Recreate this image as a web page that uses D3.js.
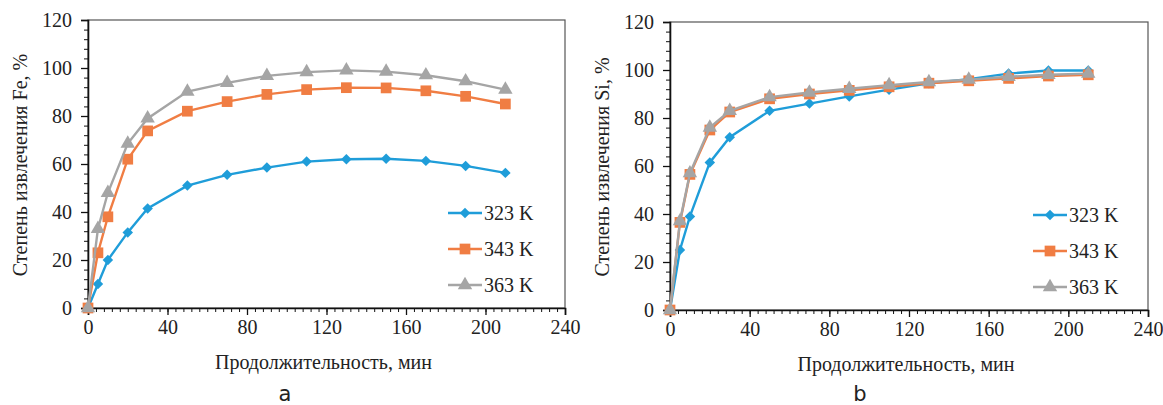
<!DOCTYPE html>
<html>
<head>
<meta charset="utf-8">
<script src="https://cdn.jsdelivr.net/npm/d3@7"></script>
<style>
  body { margin: 0; background: #fff; }
</style>
</head>
<body>
<svg id="chart" width="1163" height="405"></svg>
<script>
const times = [0, 5, 10, 20, 30, 50, 70, 90, 110, 130, 150, 170, 190, 210];
const seriesNames = ["323 K", "343 K", "363 K"];
const colors = ["#1f9dd9", "#f07d43", "#a5a5a5"];

// степень извлечения Fe, %
const fe323 = [0, 10, 20, 31.5, 41.5, 51, 55.5, 58.5, 61, 62, 62.2, 61.3, 59.2, 56.3];
const fe343 = [0, 23, 38, 62, 73.8, 82, 86, 89, 91, 91.8, 91.7, 90.5, 88.2, 85];
const fe363 = [0, 33, 48, 68.5, 79, 90.2, 93.8, 96.7, 98.3, 99, 98.5, 97, 94.5, 91];

// степень извлечения Si, %
const si323 = [0, 25, 39, 61.5, 72, 83, 86, 89, 91.8, 94.5, 96.2, 98.5, 99.8, 99.8];
const si343 = [0, 36.5, 56.5, 75, 82.5, 88, 90, 91.5, 93, 94.5, 95.5, 96.5, 97.5, 98];
const si363 = [0, 37, 57, 76, 83, 88.7, 90.6, 92.2, 93.7, 95, 96, 97.2, 98, 98.5];

const xTicks = [0, 40, 80, 120, 160, 200, 240];
const yTicks = [0, 20, 40, 60, 80, 100, 120];

const FONT = "Liberation Serif";
const svg = d3.select("#chart");

function drawPanel(opt) {
    const left = opt.left, top = opt.top, w = opt.width, h = opt.height;
    const g = svg.append("g").attr("transform", `translate(${left},${top})`);

    const x = d3.scaleLinear().domain([0, 240]).range([0, w]);
    const y = d3.scaleLinear().domain([0, 120]).range([h, 0]);

    // frame
    g.append("rect").attr("width", w).attr("height", h)
        .attr("fill", "none").attr("stroke", "#555").attr("stroke-width", 1.2);

    // minor ticks
    g.append("g").attr("transform", `translate(0,${h})`)
        .call(d3.axisBottom(x).tickValues(d3.range(0, 241, 4)).tickSize(4).tickFormat(""))
        .call(a => a.select(".domain").remove())
        .selectAll("line").attr("stroke", "#111").attr("stroke-width", 1);
    g.append("g")
        .call(d3.axisLeft(y).tickValues(d3.range(0, 121, 4)).tickSize(4).tickFormat(""))
        .call(a => a.select(".domain").remove())
        .selectAll("line").attr("stroke", "#111").attr("stroke-width", 1);

    // major ticks + labels
    const xa = g.append("g").attr("transform", `translate(0,${h})`)
        .call(d3.axisBottom(x).tickValues(xTicks).tickSize(7).tickPadding(5))
        .attr("font-family", FONT).attr("font-size", 20);
    xa.select(".domain").attr("stroke", "#111").attr("stroke-width", 1.6);
    xa.selectAll("line").attr("stroke", "#111").attr("stroke-width", 1.3);
    xa.selectAll("text").attr("fill", "#222");

    const ya = g.append("g")
        .call(d3.axisLeft(y).tickValues(yTicks).tickSize(7).tickPadding(9))
        .attr("font-family", FONT).attr("font-size", 20);
    ya.select(".domain").attr("stroke", "#111").attr("stroke-width", 1.6);
    ya.selectAll("line").attr("stroke", "#111").attr("stroke-width", 1.3);
    ya.selectAll("text").attr("fill", "#222");

    // axis titles
    g.append("text").attr("x", w / 2 - 3).attr("y", h + 61)
        .attr("text-anchor", "middle")
        .attr("font-family", FONT).attr("font-size", 20).attr("fill", "#222")
        .text("Продолжительность, мин");
    g.append("text")
        .attr("transform", `translate(${-61},${h / 2 + 1}) rotate(-90)`)
        .attr("text-anchor", "middle")
        .attr("font-family", FONT).attr("font-size", 20).attr("fill", "#222")
        .text(opt.yTitle);

    // panel letter
    svg.append("text").attr("x", left + opt.letterDx).attr("y", 401)
        .attr("text-anchor", "middle")
        .attr("font-family", "DejaVu Sans").attr("font-size", 21).attr("fill", "#222")
        .text(opt.letter);

    const line = d3.line().x((d, i) => x(times[i])).y(d => y(d));
    const symbols = [d3.symbolDiamond2, d3.symbolSquare, d3.symbolTriangle];
    const sizes = [70, 115, 90];

    opt.series.forEach((vals, k) => {
        g.append("path").datum(vals)
            .attr("fill", "none").attr("stroke", colors[k]).attr("stroke-width", 2.4)
            .attr("d", line);
        g.append("g").selectAll("path").data(vals).join("path")
            .attr("transform", (d, i) => `translate(${x(times[i])},${y(d)})`)
            .attr("d", d3.symbol(symbols[k], sizes[k]))
            .attr("fill", colors[k]);
    });

    // legend
    const lg = g.append("g").attr("transform", `translate(${opt.legendX},193)`);
    seriesNames.forEach((name, k) => {
        const row = lg.append("g").attr("transform", `translate(0,${k * 36})`);
        row.append("line").attr("x1", 0).attr("x2", 34)
            .attr("stroke", colors[k]).attr("stroke-width", 2.4);
        row.append("path").attr("transform", "translate(17,0)")
            .attr("d", d3.symbol(symbols[k], sizes[k]))
            .attr("fill", colors[k]);
        row.append("text").attr("x", 36).attr("y", 7)
            .attr("font-family", FONT).attr("font-size", 20).attr("fill", "#222")
            .text(name);
    });
}

drawPanel({
    left: 88, top: 20, width: 477, height: 288,
    yTitle: "Степень извлечения Fe, %",
    series: [fe323, fe343, fe363],
    legendX: 360, letter: "a", letterDx: 197
});

drawPanel({
    left: 670, top: 22, width: 478, height: 288,
    yTitle: "Степень извлечения Si, %",
    series: [si323, si343, si363],
    legendX: 363, letter: "b", letterDx: 190
});
</script>
</body>
</html>
